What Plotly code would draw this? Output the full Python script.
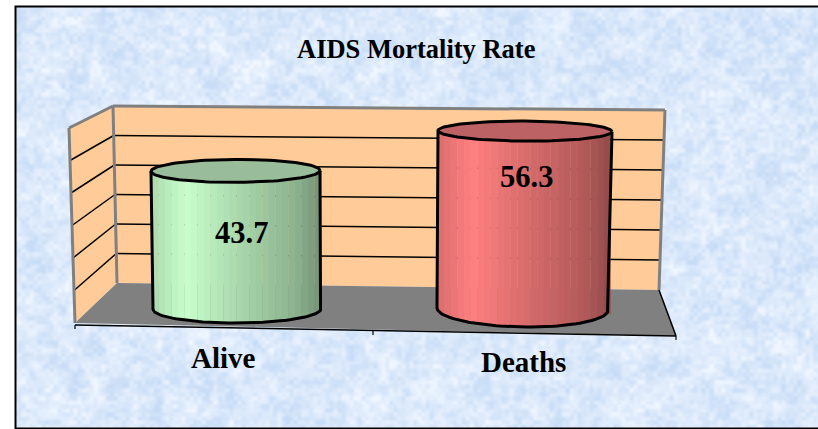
import base64, struct, zlib
import numpy as np
import plotly.graph_objects as go

# ---- data ----
categories = ["Alive", "Deaths"]
values = [43.7, 56.3]
axis_ticks = [0, 10, 20, 30, 40, 50, 60]
title_text = "AIDS Mortality Rate"

# ---- style ----
W, H = 818, 429
PX_PER_UNIT = 3.16
BASE_PX = 309.0
CENTER0, SPACING = 236.5, 287.5
half_widths = [84.5, 86.5]
top_semi = [11.5, 10.0]
bottom_depth = [14.0, 18.0]
side_top_px = [(151, 320), (438, 612)]
side_bot_px = [(153, 321), (437, 608)]
top_tilt = [-0.4, 0.5]
bot_tilt = [-0.3, 1.2]
shade_stops = [0.0, 0.2, 0.55, 0.85, 1.0]
shade_gain = [0.86, 1.0, 0.83, 0.70, 0.58]
body_rgb = [(200, 255, 204), (255, 128, 128)]
top_colors = ["#99bd9b", "#bd6264"]
value_drop_px = [62, 46]
label_px = [(223, 358), (523, 362)]
N_STRIPS = 26
FONT = "Liberation Serif"


def X(px):
    return (px - CENTER0) / SPACING


def Y(py):
    return (BASE_PX - py) / PX_PER_UNIT


def lerp(a, b, t):
    return a + (b - a) * t


def path(points):
    return "M " + " L ".join(f"{X(p[0])},{Y(p[1])}" for p in points) + " Z"


def texture_uri(w, h):
    """Mottled paper-like backdrop, built from a fixed hash pattern."""
    def layer(cell):
        gw, gh = w // cell + 3, h // cell + 3
        gy, gx = np.mgrid[0:gh, 0:gw]
        v = np.sin(gx * 12.9898 * (cell * 0.37 + 1) + gy * 78.233) * 43758.5453
        v = v - np.floor(v)
        xs = np.arange(w) / cell
        ys = np.arange(h) / cell
        x0 = xs.astype(int)
        y0 = ys.astype(int)
        fx = (xs - x0)[None, :]
        fy = (ys - y0)[:, None]
        fx = fx * fx * (3 - 2 * fx)
        fy = fy * fy * (3 - 2 * fy)
        a = v[np.ix_(y0, x0)]
        b = v[np.ix_(y0, x0 + 1)]
        c = v[np.ix_(y0 + 1, x0)]
        d = v[np.ix_(y0 + 1, x0 + 1)]
        return (a * (1 - fx) + b * fx) * (1 - fy) + (c * (1 - fx) + d * fx) * fy
    n = 0.3 * layer(20) + 0.35 * layer(8) + 0.35 * layer(4)
    n = np.clip((n - 0.5) * 3.0, -1, 1)[..., None]
    base = np.array([219, 233, 251.0])
    amp = np.array([20, 13, 5.0])
    img = np.clip(base + n * amp, 0, 255).astype(np.uint8)
    raw = b"".join(b"\x00" + img[r].tobytes() for r in range(h))

    def chunk(t, d):
        return struct.pack(">I", len(d)) + t + d + struct.pack(">I", zlib.crc32(t + d))
    png = (b"\x89PNG\r\n\x1a\n" + chunk(b"IHDR", struct.pack(">IIBBBBB", w, h, 8, 2, 0, 0, 0))
           + chunk(b"IDAT", zlib.compress(raw, 9)) + chunk(b"IEND", b""))
    return "data:image/png;base64," + base64.b64encode(png).decode()


fig = go.Figure()
shapes = []

# ---- chart walls and floor ----
WALL = "#ffcc99"
EDGE = "#808080"
back_tl, back_tr, back_br, back_bl = (113, 106), (665, 110), (659, 290), (117, 283)
side_tl, side_bl = (69, 128), (75, 323)
floor_fr, floor_fl = (676, 336), (75, 325)


def poly(points, fill, line=None, w=0):
    shapes.append(dict(type="path", path=path(points), fillcolor=fill, layer="below",
                       xref="x", yref="y",
                       line=dict(color=line or fill, width=w)))


def seg(a, b, color="#000000", w=1.5):
    shapes.append(dict(type="line", x0=X(a[0]), y0=Y(a[1]), x1=X(b[0]), y1=Y(b[1]),
                       xref="x", yref="y", layer="below", line=dict(color=color, width=w)))


poly([back_tl, back_tr, back_br, back_bl], WALL)
poly([side_tl, back_tl, back_bl, side_bl], WALL)
poly([side_bl, back_bl, back_br, floor_fr], EDGE)
top = axis_ticks[-1]
for t in axis_ticks[1:-1]:
    f = t / top
    pa = (lerp(side_bl[0], side_tl[0], f), lerp(side_bl[1], side_tl[1], f))
    pb = (lerp(back_bl[0], back_tl[0], f), lerp(back_bl[1], back_tl[1], f))
    pc = (lerp(back_br[0], back_tr[0], f), lerp(back_br[1], back_tr[1], f))
    seg(pa, pb)
    seg(pb, pc)
seg(side_bl, side_tl, EDGE, 3)
seg(side_tl, back_tl, EDGE, 3)
seg(back_tl, back_bl, EDGE, 3)
seg(back_tl, back_tr, EDGE, 3)
seg(back_tr, back_br, EDGE, 3)
seg(floor_fl, floor_fr, "#000000", 1.5)
seg(back_br, floor_fr, "#000000", 1.5)
seg(floor_fl, (75, 329), "#000000", 1.2)
seg(floor_fr, (676, 340), "#000000", 1.2)
seg((373, 331), (373, 335), "#000000", 1.2)

# ---- cylinders ----
for i, (cat, val) in enumerate(zip(categories, values)):
    hw = half_widths[i] / SPACING
    strip = 2 * hw / N_STRIPS
    frac = (np.arange(N_STRIPS) + 0.5) / N_STRIPS
    off = (frac * 2 - 1) * hw
    depth = bottom_depth[i] * np.sqrt(np.clip(1 - (frac * 2 - 1) ** 2, 0, 1)) / PX_PER_UNIT
    gains = np.interp(frac, shade_stops, shade_gain)
    colors = [f"rgb({int(body_rgb[i][0]*g)},{int(body_rgb[i][1]*g)},{int(body_rgb[i][2]*g)})"
              for g in gains]
    fig.add_trace(go.Bar(x=i + off, y=val + depth, base=-depth, width=strip * 1.04,
                         marker=dict(color=colors, line=dict(width=0)),
                         name=cat, showlegend=False, hoverinfo="skip"))

    # outline and cap, positioned from the value through the axis scale
    t = np.linspace(0, 2 * np.pi, 121)
    tl, tr = side_top_px[i]
    bl, br = side_bot_px[i]
    cx_top = X((tl + tr) / 2)
    rx_top = (tr - tl) / 2 / SPACING
    cap_x = cx_top + rx_top * np.cos(t)
    cap_y = val + (top_semi[i] * np.sin(t) - top_tilt[i] * np.cos(t)) / PX_PER_UNIT
    fig.add_trace(go.Scatter(x=cap_x, y=cap_y, mode="lines", fill="toself",
                             fillcolor=top_colors[i], line=dict(color="#000000", width=3),
                             showlegend=False, hoverinfo="skip"))
    a = np.linspace(0, np.pi, 61)
    cx_bot = X((bl + br) / 2)
    rx_bot = (br - bl) / 2 / SPACING
    arc_x = cx_bot + rx_bot * np.cos(a)
    arc_y = -(bottom_depth[i] * np.sin(a) + bot_tilt[i] * np.cos(a)) / PX_PER_UNIT
    edge_x = np.r_[X(tr), arc_x, X(tl)]
    edge_y = np.r_[val - top_tilt[i] / PX_PER_UNIT, arc_y, val + top_tilt[i] / PX_PER_UNIT]
    fig.add_trace(go.Scatter(x=edge_x, y=edge_y, mode="lines",
                             line=dict(color="#000000", width=3),
                             showlegend=False, hoverinfo="skip"))

# ---- text ----
annotations = [dict(x=X(416), y=Y(49), text=f"<b>{title_text}</b>", showarrow=False,
                    font=dict(family=FONT, size=26.5, color="#000000"))]
for i, (cat, val) in enumerate(zip(categories, values)):
    annotations.append(dict(x=i, y=val, yshift=-value_drop_px[i], xshift=[4.5, 2][i],
                            text=f"<b>{val}</b>", showarrow=False,
                            font=dict(family=FONT, size=30.5, color="#000000")))
    annotations.append(dict(x=X(label_px[i][0]), y=Y(label_px[i][1]), text=f"<b>{cat}</b>",
                            showarrow=False,
                            font=dict(family=FONT, size=29, color="#000000")))

# ---- frame ----
shapes.append(dict(type="rect", x0=15.5 / W, x1=830 / W, y0=1 - 428.5 / H, y1=1 - 6.5 / H,
                   xref="paper", yref="paper", layer="below",
                   line=dict(color="#000000", width=2), fillcolor="rgba(0,0,0,0)"))

fig.update_layout(
    width=W, height=H, autosize=False,
    margin=dict(l=0, r=0, t=0, b=0),
    paper_bgcolor="#ffffff", plot_bgcolor="rgba(0,0,0,0)",
    barmode="overlay", showlegend=False,
    xaxis=dict(range=[X(0), X(W)], visible=False, fixedrange=True),
    yaxis=dict(range=[Y(H), Y(0)], visible=False, fixedrange=True),
    shapes=shapes, annotations=annotations,
    images=[dict(source=texture_uri(803, 422), xref="paper", yref="paper",
                 x=15 / W, y=1 - 6 / H, sizex=803 / W, sizey=422 / H,
                 xanchor="left", yanchor="top", sizing="stretch", layer="below")],
)
fig.write_html("out.html", config=dict(displayModeBar=False),
               post_script="document.documentElement.style.overflow='hidden';"
                           "document.body.style.margin='0';"
                           "document.body.style.overflow='hidden';")
